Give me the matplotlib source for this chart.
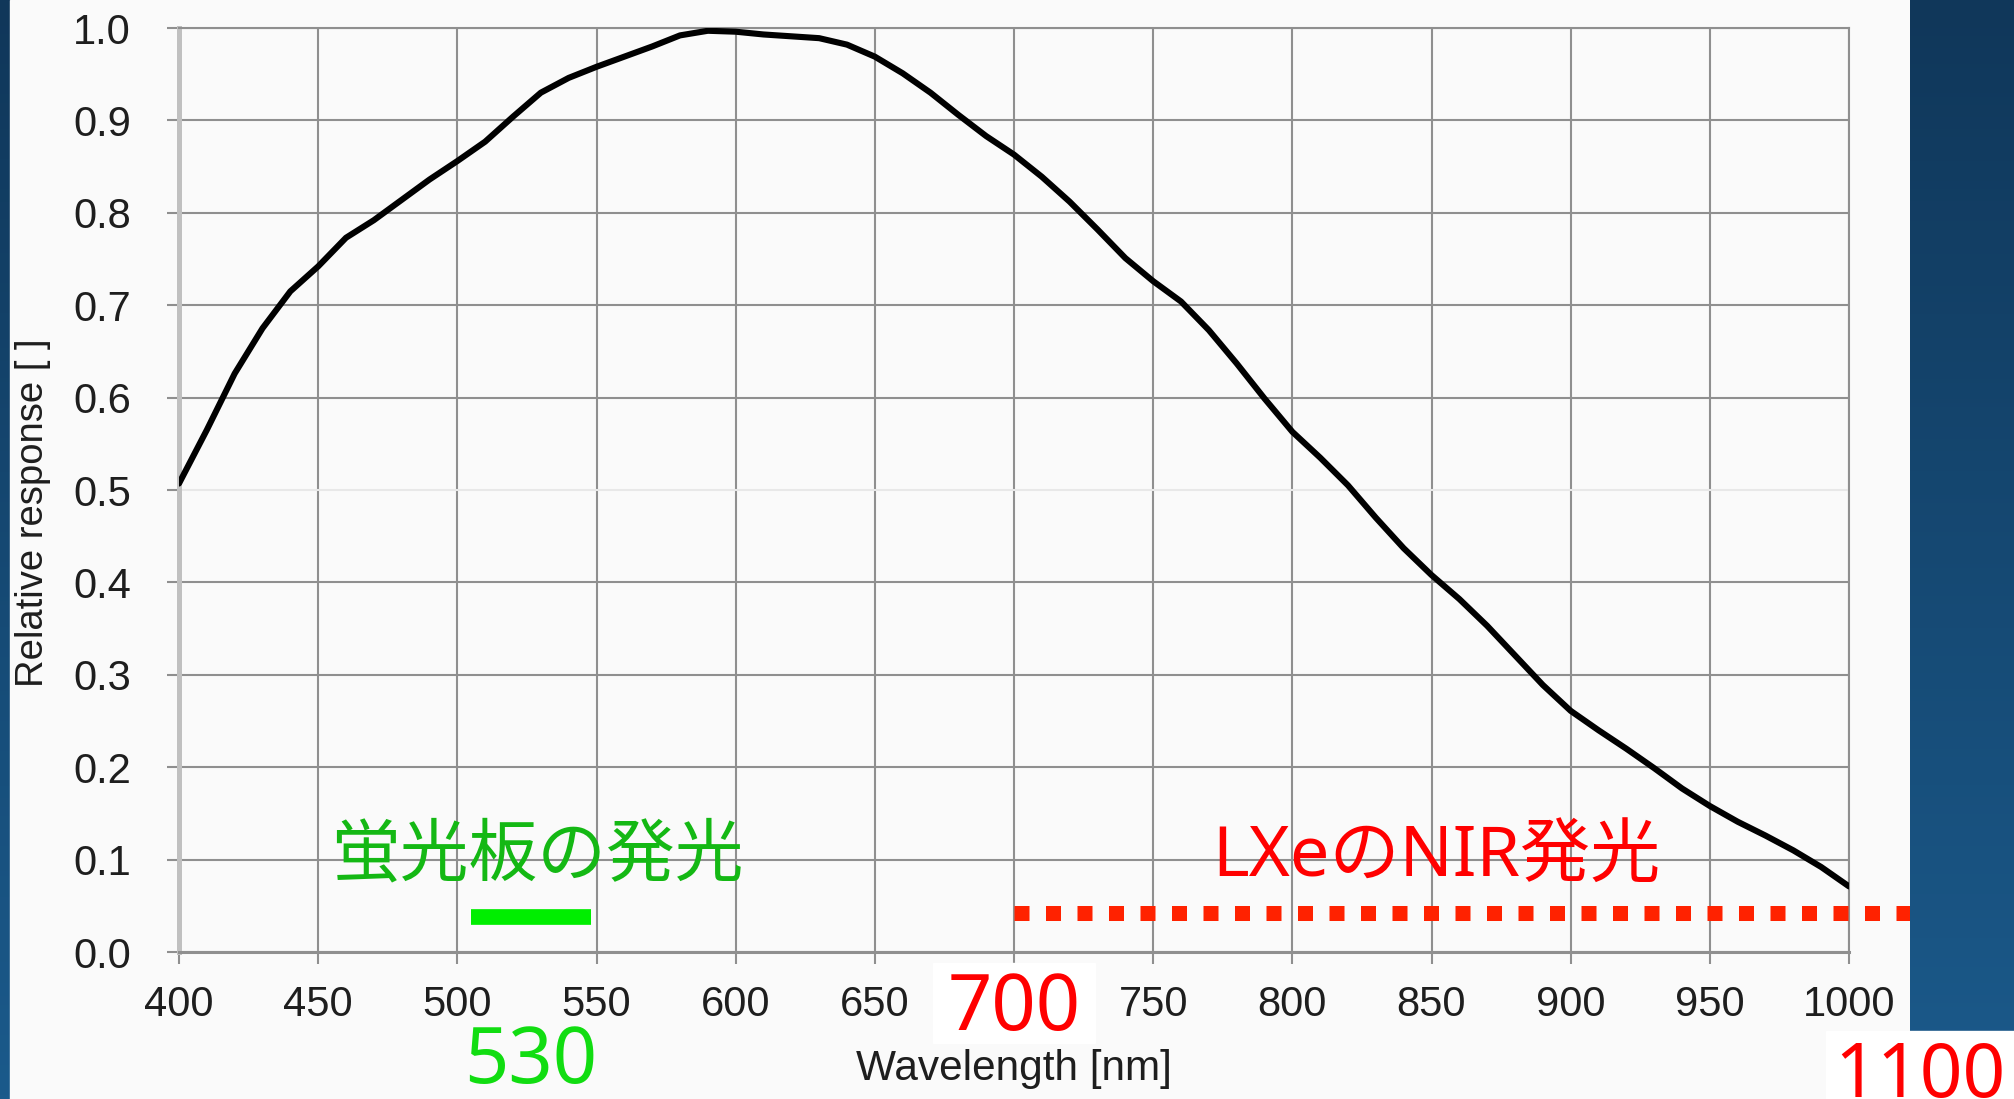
import numpy as np
import matplotlib
matplotlib.use('Agg')
import matplotlib.pyplot as plt
from matplotlib.colors import LinearSegmentedColormap
from matplotlib.patches import Rectangle
import matplotlib.transforms as mtransforms

plt.rcParams['font.family'] = ['Liberation Sans', 'DejaVu Sans']

# relative spectral response
wavelength = [400, 410, 420, 430, 440, 450, 460, 470, 480, 490,
              500, 510, 520, 530, 540, 550, 560, 570, 580, 590,
              600, 610, 620, 630, 640, 650, 660, 670, 680, 690,
              700, 710, 720, 730, 740, 750, 760, 770, 780, 790,
              800, 810, 820, 830, 840, 850, 860, 870, 880, 890,
              900, 910, 920, 930, 940, 950, 960, 970, 980, 990, 1000]
response = [0.507, 0.565, 0.626, 0.675, 0.715, 0.742, 0.773, 0.792, 0.814, 0.836,
            0.856, 0.877, 0.904, 0.930, 0.946, 0.958, 0.969, 0.980, 0.992, 0.997,
            0.996, 0.993, 0.991, 0.989, 0.982, 0.969, 0.951, 0.930, 0.906, 0.883,
            0.863, 0.839, 0.812, 0.782, 0.751, 0.726, 0.704, 0.673, 0.637, 0.599,
            0.563, 0.535, 0.505, 0.470, 0.437, 0.408, 0.382, 0.353, 0.321, 0.289,
            0.261, 0.240, 0.220, 0.199, 0.177, 0.158, 0.141, 0.126, 0.110, 0.092, 0.071]

phosphor_band = [505, 548]
phosphor_level = 0.0375
nir_band = [700, 1100]
nir_level = 0.042

x_ticks = list(range(400, 1001, 50))
y_ticks = [0.0, 0.1, 0.2, 0.3, 0.4, 0.5, 0.6, 0.7, 0.8, 0.9, 1.0]

W, H = 2015, 1099
fig = plt.figure(figsize=(W / 100, H / 100), dpi=100)

# slide background (blue gradient)
slide = LinearSegmentedColormap.from_list('slide', ['#1b5a8b', '#10375a'])
bg = fig.add_axes([0, 0, 1, 1], zorder=-2)
bg.imshow(np.linspace(1, 0, 256).reshape(-1, 1), cmap=slide, vmin=0, vmax=1,
          aspect='auto', extent=[0, 1, 0, 1])
bg.axis('off')
fig.add_artist(Rectangle((10 / W, 0), 1900 / W, 1, transform=fig.transFigure,
                         color='#fafafa', zorder=-1))

ax = fig.add_axes([179 / W, 147 / H, 1670 / W, 924 / H])
ax.set_facecolor('#fafafa')
ax.plot(wavelength, response, color='black', lw=4.4, solid_joinstyle='round',
        solid_capstyle='round', zorder=4)

ax.set_xlim(400, 1000)
ax.set_ylim(0, 1)
ax.set_xticks(x_ticks)
ax.set_yticks(y_ticks)
ax.set_yticklabels([f'{v:.1f}' for v in y_ticks])
ax.grid(True, color='#8f8f8f', lw=1.5)
ax.set_axisbelow(True)
for g in ax.get_ygridlines():
    if abs(g.get_ydata()[0] - 0.5) < 1e-6:
        g.set_color('#e8e8e8')
ax.tick_params(axis='both', colors='#8f8f8f', width=1.5, length=8.6,
               labelcolor='#1e1e1e', labelsize=30)
ax.tick_params(axis='y', pad=26)
ax.tick_params(axis='x', pad=15)
for s in ['top', 'right']:
    ax.spines[s].set_color('#8f8f8f')
    ax.spines[s].set_linewidth(1.5)
ax.spines['left'].set_color('#c0c0c0')
ax.spines['left'].set_linewidth(3.6)
ax.spines['bottom'].set_color('#8f8f8f')
ax.spines['bottom'].set_linewidth(2.2)

ax.set_xlabel('Wavelength [nm]', fontsize=30.5, color='#1e1e1e')
ax.xaxis.set_label_coords(0.5, -0.1266)
ax.xaxis.label.set_va('center')
ax.set_ylabel('Relative response [ ]', fontsize=27.5, color='#1e1e1e')
ax.yaxis.set_label_coords(-0.0874, 0.475)
ax.yaxis.label.set_va('center')

# emission bands
ax.plot(phosphor_band, [phosphor_level] * 2, color='#00ee00', lw=11.3,
        solid_capstyle='butt', zorder=3)
ax.plot(nir_band, [nir_level] * 2, color='#ff2200', lw=10.8,
        dashes=(1, 1.1), dash_capstyle='butt', clip_on=False, zorder=3)

jp = ['Noto Sans', 'Noto Sans CJK JP', 'DejaVu Sans']
ax.text(528.6, 0.1025, '蛍光板の発光', color='#14b814', fontsize=49.5,
        family=jp, ha='center', va='center', zorder=5)
ax.text(851.6, 0.1015, 'LXeのNIR発光', color='#ff0000', fontsize=50.5,
        family=jp, ha='center', va='center', zorder=5)

blend = mtransforms.blended_transform_factory(ax.transData, ax.transAxes)
ax.text(np.mean(phosphor_band), -0.1418, '530', color='#11dd11', fontsize=56,
        family=jp, ha='center', va='baseline', transform=blend, clip_on=False, zorder=5)
ax.add_patch(Rectangle((933 / W, (H - 1043) / H), 162 / W, 80 / H, transform=fig.transFigure,
                       color='white', clip_on=False, zorder=3))
ax.text(nir_band[0], -0.0844, '700', color='#ff0000', fontsize=56,
        family=jp, ha='center', va='baseline', transform=blend, clip_on=False, zorder=5)

# right blue panel over the dotted line
rp = fig.add_axes([1910 / W, 68 / H, 105 / W, 1031 / H], zorder=5)
rp.imshow(np.linspace(1, 68 / H, 256).reshape(-1, 1), cmap=slide, vmin=0, vmax=1,
          aspect='auto', extent=[0, 1, 0, 1])
rp.axis('off')

fig.add_artist(Rectangle((1826 / W, 0), (W - 1826) / W, 68 / H, transform=fig.transFigure,
                         color='white', zorder=6))
fig.text(1920 / W, 2 / H, '1100', color='#ff0000', fontsize=54,
         family=jp, ha='center', va='baseline', zorder=7)

fig.savefig('out.png', dpi=100)
